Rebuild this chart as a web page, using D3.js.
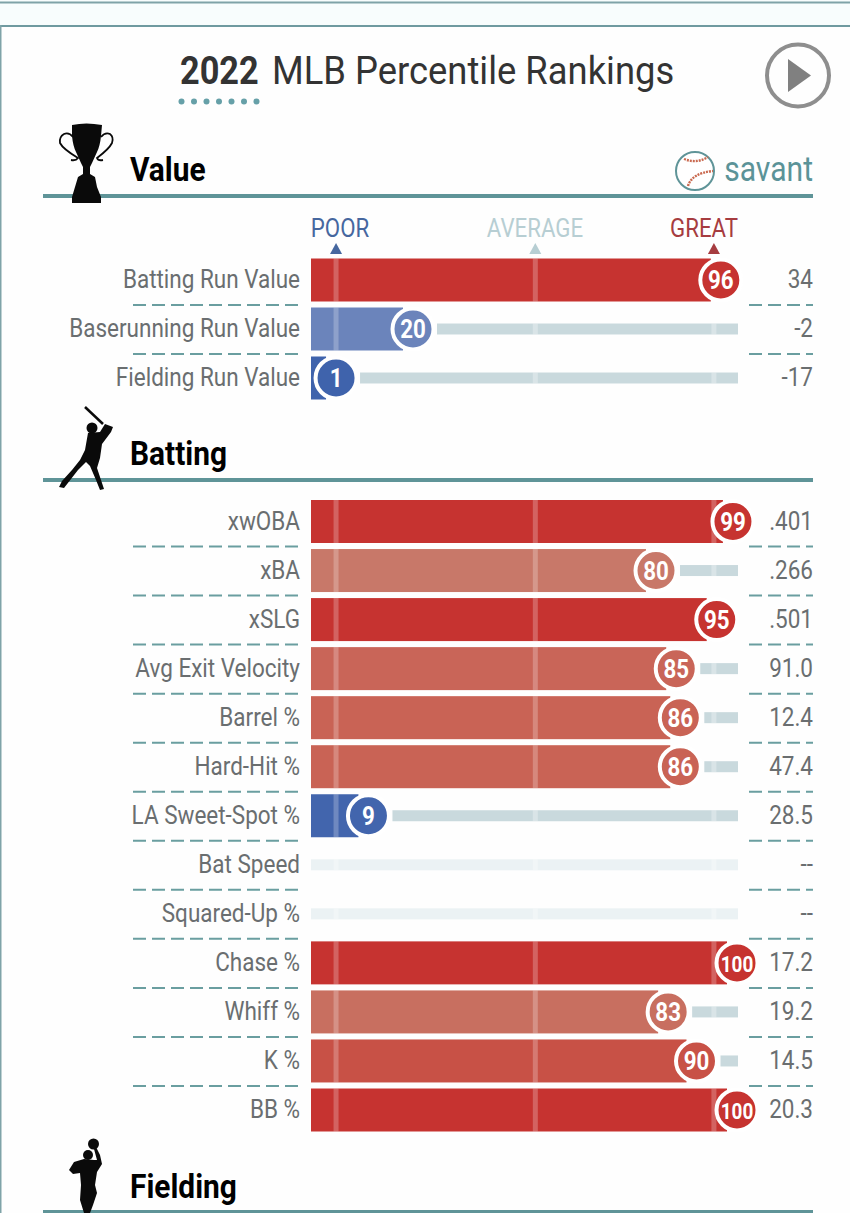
<!DOCTYPE html>
<html><head><meta charset="utf-8">
<script src="https://cdn.jsdelivr.net/npm/d3@7"></script>
<style>html,body{margin:0;padding:0;background:#fff;overflow:hidden}svg{display:block}text{font-family:Roboto,sans-serif}</style>
</head><body><svg id="c" width="850" height="1213"></svg>
<script>
const valueLabels=["Batting Run Value","Baserunning Run Value","Fielding Run Value"];
const valuePercentiles=[96,20,1];
const valueStats=["34","-2","-17"];
const battingLabels=["xwOBA","xBA","xSLG","Avg Exit Velocity","Barrel %","Hard-Hit %","LA Sweet-Spot %","Bat Speed","Squared-Up %","Chase %","Whiff %","K %","BB %"];
const battingPercentiles=[99,80,95,85,86,86,9,null,null,100,83,90,100];
const battingStats=[".401",".266",".501","91.0","12.4","47.4","28.5","--","--","17.2","19.2","14.5","20.3"];
const markerLabels=["POOR","AVERAGE","GREAT"];
const markerPercentiles=[1,50.2,94.3];
const markerColors=["#46679f","#b7ced3","#a63c40"];
const colorStops=[0,9,20,50,80,83,85,86,90,95,100];
const colorValues=["#3f63ac","#4265ad","#6b84bb","#c5ccd0","#c87869","#c86f60","#c96558","#c96355","#c85146","#c63330","#c63330"];

const svg=d3.select("#c");
const INK="#6a6e70",TEAL="#5f9498",NARROW=0.9;
const x=d3.scaleLinear().domain([0,100]).range([332,737]);
const color=d3.scaleLinear().domain(colorStops).range(colorValues);
const trackL=311,trackR=738,barH=43,trackH=11;

function label(g,tx,ty,str,o){
  o=o||{};
  return g.append("text").attr("transform",`translate(${tx},${ty}) scale(${o.sx||NARROW},1)`)
   .attr("text-anchor",o.anchor||"start").attr("font-size",o.size||25).attr("font-weight",o.weight||400)
   .attr("fill",o.fill||INK).text(str);
}

// page frame
svg.append("rect").attr("width",850).attr("height",1213).attr("fill","#f8fdfd");
svg.append("rect").attr("x",0).attr("y",26).attr("width",850).attr("height",1187).attr("fill","#fefefe");
svg.append("rect").attr("x",0).attr("y",1.5).attr("width",850).attr("height",2).attr("fill","#7fa3a8");
svg.append("rect").attr("x",0).attr("y",25).attr("width",850).attr("height",2).attr("fill","#6f9aa0");
svg.append("rect").attr("x",0).attr("y",25).attr("width",1.5).attr("height",1188).attr("fill","#7fa3a8");

// title
label(svg,180,84,"2022",{size:39,weight:700,fill:"#333",sx:.88});
label(svg,272,84,"MLB Percentile Rankings",{size:39,fill:"#333",sx:.933});
svg.append("g").selectAll("circle").data(d3.range(7)).join("circle")
  .attr("cx",d=>181.5+d*12.5).attr("cy",101.5).attr("r",3).attr("fill","#66a0a8");

// play button
svg.append("circle").attr("cx",798).attr("cy",75.5).attr("r",31).attr("fill","none").attr("stroke","#8e8e8e").attr("stroke-width",4);
svg.append("path").attr("d","M788,59L811,75.5L788,92Z").attr("fill","#808080");

// section headers
[["Value",181,196],["Batting",465,480],["Fielding",1198,1212]].forEach(([t,by,ry])=>{
  svg.append("rect").attr("x",43).attr("y",ry-2).attr("width",770).attr("height",4).attr("fill",TEAL);
  label(svg,130,by,t,{size:33,weight:700,fill:"#000",sx:.905});
});

// trophy
const ICON="#0a0a0a";
svg.append("path").attr("fill",ICON).attr("d","M72,125Q86,122 102,125L101,136Q100,146 97,152L92,163L90,167L90,174L95,177L97,187L101,197L101,203L72,203L72,197L75,187L78,177L83,174L83,167L81,163L76,152Q73,146 72,136Z");
svg.append("path").attr("fill","none").attr("stroke",ICON).attr("stroke-width",1.8)
  .attr("d","M73,137Q69,132 64,134Q59,137 60,143Q63,149 78,158Q76,161 71,160M101,137Q105,132 110,134Q114,137 112,143Q109,149 97,158Q98,161 103,160");
// savant ball
svg.append("circle").attr("cx",695).attr("cy",171).attr("r",19).attr("fill","#fff").attr("stroke","#5f9498").attr("stroke-width",2);
svg.append("path").attr("fill","none").attr("stroke","#c9694f").attr("stroke-width",2.4).attr("stroke-dasharray","2 1")
  .attr("d","M684,159Q697,164 708,157M688,186Q692,173 713,171");
label(svg,813,181,"savant",{size:35,fill:"#5b9398",anchor:"end",sx:.86});

// batter
svg.append("path").attr("stroke",ICON).attr("stroke-width",2.5).attr("d","M85,407L103,424");
svg.append("circle").attr("cx",92).attr("cy",428).attr("r",5.5).attr("fill",ICON);
svg.append("path").attr("fill",ICON).attr("d","M88,433L100,432L105,424L113,427L111,432L102,444L100,458L97,468L101,480L104,489L100,490L96,480L90,466L86,462L78,470L64,488L59,487L62,481L72,470L80,460L85,450Z");
// fielder
svg.append("circle").attr("cx",93.5).attr("cy",1144).attr("r",5.5).attr("fill",ICON);
svg.append("circle").attr("cx",88).attr("cy",1155).attr("r",5).attr("fill",ICON);
svg.append("path").attr("fill",ICON).attr("d","M96,1147L100,1155L102,1164L97,1172L95,1185L97,1193L93,1205L90,1213L84,1213L80,1200L81,1185L80,1173L73,1174L69,1170L74,1162L84,1159L94,1160L97,1160L94,1149Z");

// POOR / AVERAGE / GREAT
const markers=markerLabels.map((t,i)=>({t,p:markerPercentiles[i],c:markerColors[i]}));
const textC=[340,535,704];
markers.forEach((m,i)=>{
  label(svg,textC[i],237,m.t,{size:25,fill:m.c,anchor:"middle",sx:.89});
  const px=x(m.p);
  svg.append("path").attr("d",d3.line()([[px-6,254],[px,243],[px+6,254]])+"Z").attr("fill",m.c);
});

function section(labels,pcts,stats,range){
  const y=d3.scalePoint().domain(labels).range(range);
  const rows=labels.map((l,i)=>({l,p:pcts[i],s:stats[i],y:y(l),last:i===labels.length-1,i}));
  const g=svg.append("g").selectAll("g").data(rows).join("g");
  // tracks
  g.append("rect").attr("x",d=>d.p==null?trackL:Math.min(trackR,x(d.p)+24))
    .attr("y",d=>d.y-trackH/2).attr("height",trackH)
    .attr("width",d=>d.p==null?trackR-trackL:Math.max(0,trackR-(x(d.p)+24)))
    .attr("fill",d=>d.p==null?"#ebf2f4":"#c9d9dd");
  // bars
  g.filter(d=>d.p!=null).append("rect").attr("x",trackL).attr("y",d=>d.y-barH/2)
    .attr("width",d=>Math.max(0,x(d.p)-10-trackL)).attr("height",barH).attr("fill",d=>color(d.p));
  // stripes
  g.each(function(d){
    const sel=d3.select(this);
    markerPercentiles.forEach(mp=>{
      const sx=x(mp)-2.5;
      const barEnd=d.p==null?-1:x(d.p)-10;
      if(sx+5<=barEnd){
        sel.append("rect").attr("x",sx).attr("y",d.y-barH/2).attr("width",5).attr("height",barH).attr("fill","#fff").attr("opacity",.24);
      } else if(d.p==null||sx>x(d.p)+24){
        sel.append("rect").attr("x",sx).attr("y",d.y-trackH/2).attr("width",5).attr("height",trackH).attr("fill","#fff").attr("opacity",.3);
      }
    });
  });
  // badge
  const b=g.filter(d=>d.p!=null);
  b.append("circle").attr("cx",d=>x(d.p)).attr("cy",d=>d.y).attr("r",20.5)
    .attr("fill",d=>color(d.p)).attr("stroke","#fff").attr("stroke-width",4);
  b.each(function(d){
    label(d3.select(this),x(d.p),d.y+9,d.p,{size:d.p===100?22:26,weight:700,fill:"#fff",anchor:"middle",sx:.86});
  });
  // labels
  g.each(function(d){
    const sel=d3.select(this);
    label(sel,300,d.y+8,d.l,{anchor:"end"});
    label(sel,813,d.y+8,d.s,{anchor:"end",size:25,sx:.9});
    if(!d.last){
      const ly=d.y+25;
      sel.append("line").attr("x1",133).attr("x2",300).attr("y1",ly).attr("y2",ly).attr("stroke","#6a9ea0").attr("stroke-width",2).attr("stroke-dasharray","13 6");
      sel.append("line").attr("x1",749).attr("x2",813).attr("y1",ly).attr("y2",ly).attr("stroke","#6a9ea0").attr("stroke-width",2).attr("stroke-dasharray","13 6");
    }
  });
}
section(valueLabels,valuePercentiles,valueStats,[280,378]);
section(battingLabels,battingPercentiles,battingStats,[521.5,1110]);
</script></body></html>
